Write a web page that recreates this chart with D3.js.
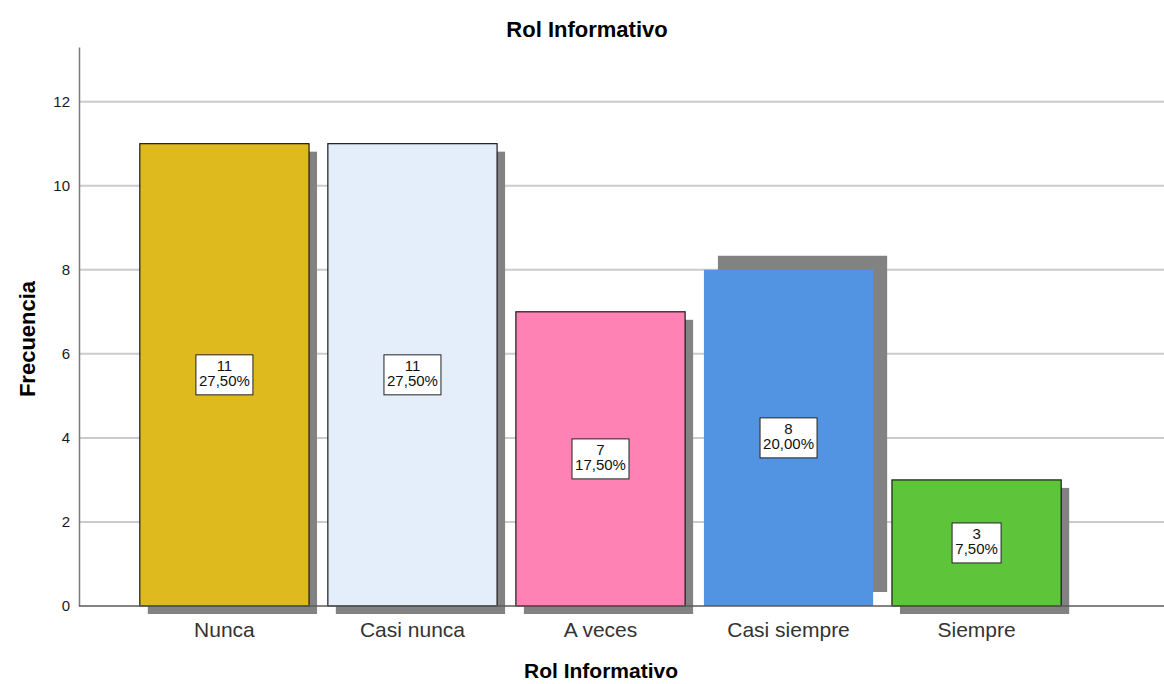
<!DOCTYPE html>
<html>
<head>
<meta charset="utf-8">
<script src="https://cdn.jsdelivr.net/npm/d3@7"></script>
<style>
  html, body { margin: 0; padding: 0; background: #fff; }
  svg { display: block; }
  text { font-family: "Liberation Sans", Arial, sans-serif; }
</style>
</head>
<body>
<svg id="chart" width="1164" height="684"></svg>
<script>
// Frequency table for "Rol Informativo"
const categories = ["Nunca", "Casi nunca", "A veces", "Casi siempre", "Siempre"];
const counts = [11, 11, 7, 8, 3];
const percents = ["27,50%", "27,50%", "17,50%", "20,00%", "7,50%"];
const yTicks = [0, 2, 4, 6, 8, 10, 12];
const barColors = ["#dfba1f", "#e3eefa", "#fe82b3", "#5294e2", "#5ec43a"];
const chartTitle = "Rol Informativo";
const xTitle = "Rol Informativo";
const yTitle = "Frecuencia";

const svg = d3.select("#chart");
const plotLeft = 79, plotRight = 1164, plotTop = 47, plotBottom = 606;

const x = d3.scaleBand()
  .domain(categories)
  .range([121, 1080])
  .paddingInner(0.1)
  .paddingOuter(0.1);

const y = d3.scaleLinear()
  .domain([0, 13.3])
  .range([plotBottom, plotTop]);

// horizontal gridlines
svg.append("g")
  .selectAll("line")
  .data(yTicks.filter(d => d > 0))
  .join("line")
  .attr("x1", plotLeft).attr("x2", plotRight)
  .attr("y1", d => y(d)).attr("y2", d => y(d))
  .attr("stroke", "#cbcbcb")
  .attr("stroke-width", 2);

// y axis
const yAxis = svg.append("g")
  .attr("transform", `translate(${plotLeft},0)`)
  .call(d3.axisLeft(y).tickValues(yTicks).tickSize(0).tickPadding(9).tickFormat(d3.format("d")));
yAxis.select(".domain").attr("stroke", "#7a7a7a").attr("stroke-width", 1.5);
yAxis.selectAll("text")
  .attr("font-size", 15)
  .attr("font-family", "Liberation Sans, Arial, sans-serif")
  .attr("fill", "#1a1a1a");

// bar shadows (the "Casi siempre" shadow sits up and to the right)
const shadowOffset = (d, i) => i === 3 ? [14, -14] : [8, 8];
svg.append("g")
  .selectAll("rect")
  .data(counts)
  .join("rect")
  .attr("x", (d, i) => x(categories[i]) + shadowOffset(d, i)[0])
  .attr("y", (d, i) => y(d) + shadowOffset(d, i)[1])
  .attr("width", x.bandwidth())
  .attr("height", d => plotBottom - y(d))
  .attr("fill", "#828282");

// bars
svg.append("g")
  .selectAll("rect")
  .data(counts)
  .join("rect")
  .attr("x", (d, i) => x(categories[i]))
  .attr("y", d => y(d))
  .attr("width", x.bandwidth())
  .attr("height", d => plotBottom - y(d))
  .attr("fill", (d, i) => barColors[i])
  .attr("stroke", (d, i) => i === 3 ? "none" : "#1a1a1a")
  .attr("stroke-width", 1.2);

// x axis line
svg.append("line")
  .attr("x1", plotLeft).attr("x2", plotRight)
  .attr("y1", plotBottom).attr("y2", plotBottom)
  .attr("stroke", "#5a5a5a")
  .attr("stroke-width", 1.5);

// category labels
svg.append("g")
  .selectAll("text")
  .data(categories)
  .join("text")
  .attr("x", d => x(d) + x.bandwidth() / 2)
  .attr("y", 637)
  .attr("text-anchor", "middle")
  .attr("font-size", 21)
  .attr("fill", "#333")
  .text(d => d);

// value labels: count and percent in a boxed two-line label at half height
const labels = svg.append("g")
  .selectAll("g")
  .data(counts)
  .join("g")
  .attr("transform", (d, i) => `translate(${x(categories[i]) + x.bandwidth() / 2},${y(d / 2)})`);

labels.each(function (d, i) {
  const g = d3.select(this);
  const rect = g.append("rect").attr("fill", "#fff").attr("stroke", "#222").attr("stroke-width", 1);
  const t = g.append("text")
    .attr("text-anchor", "middle")
    .attr("font-size", 15)
    .attr("fill", "#111");
  t.append("tspan").attr("x", 0).attr("y", -4).text(d);
  t.append("tspan").attr("x", 0).attr("y", 11).text(percents[i]);
  const bb = t.node().getBBox();
  const w = Math.ceil(bb.width) + 6;
  rect.attr("x", -w / 2).attr("y", -20).attr("width", w).attr("height", 40);
});

// titles
svg.append("text")
  .attr("x", 587).attr("y", 37)
  .attr("text-anchor", "middle")
  .attr("font-size", 22).attr("font-weight", "bold").attr("fill", "#000")
  .text(chartTitle);

svg.append("text")
  .attr("x", 601).attr("y", 678)
  .attr("text-anchor", "middle")
  .attr("font-size", 21).attr("font-weight", "bold").attr("fill", "#000")
  .text(xTitle);

svg.append("text")
  .attr("transform", "translate(35,339) rotate(-90)")
  .attr("text-anchor", "middle")
  .attr("font-size", 22).attr("font-weight", "bold").attr("fill", "#000")
  .text(yTitle);
</script>
</body>
</html>
